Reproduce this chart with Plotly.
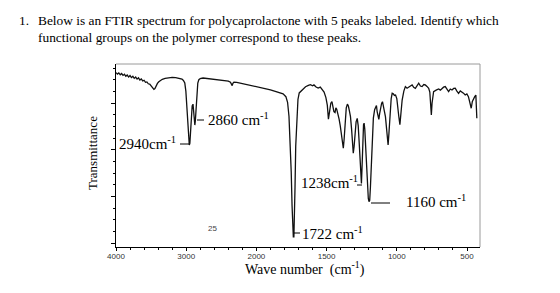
import plotly.graph_objects as go

# ---------------- data ----------------
WAVENUMBER = [
    4000, 3980, 3960, 3940, 3920, 3900, 3880, 3860, 3840, 3820, 3800, 3780, 3760, 3740, 3720,
    3700, 3680, 3660, 3640, 3620, 3600, 3580, 3560, 3540, 3520, 3500, 3480, 3460, 3445, 3430,
    3410, 3390, 3370, 3340, 3300, 3250, 3200, 3150, 3100, 3060, 3040, 3020, 3005, 2990, 2978,
    2966, 2956, 2948, 2940, 2930, 2915, 2903, 2893, 2885, 2877, 2870, 2862, 2855, 2845, 2835,
    2820, 2800, 2760, 2700, 2650, 2600, 2550, 2500, 2450, 2400, 2370, 2355, 2345, 2335, 2320,
    2280, 2200, 2150, 2100, 2050, 2000, 1950, 1900, 1860, 1830, 1810, 1790, 1778, 1768, 1760,
    1752, 1746, 1741, 1737, 1733, 1729, 1725, 1720, 1713, 1704, 1695, 1684, 1670, 1650, 1630,
    1615, 1600, 1590, 1575, 1560, 1545, 1530, 1518, 1505, 1495, 1487, 1480, 1470, 1462, 1455,
    1448, 1440, 1434, 1428, 1420, 1411, 1403, 1395, 1387, 1381, 1375, 1368, 1360, 1352, 1345,
    1338, 1330, 1322, 1315, 1310, 1304, 1297, 1290, 1282, 1275, 1268, 1262, 1256, 1252, 1247,
    1242, 1237, 1233, 1228, 1222, 1216, 1210, 1203, 1198, 1193, 1188, 1182, 1175, 1167, 1158,
    1150, 1145, 1140, 1133, 1128, 1122, 1115, 1108, 1102, 1096, 1088, 1081, 1075, 1068, 1062,
    1056, 1048, 1040, 1033, 1025, 1017, 1009, 1000, 993, 986, 978, 970, 962, 950, 939,
    927, 915, 903, 891, 880, 868, 856, 844, 832, 820, 808, 797, 785, 773, 765,
    759, 754, 749, 742, 738, 720, 702, 690, 679, 667, 655, 643, 631, 619, 607,
    595, 584, 572, 560, 548, 537, 525, 513, 501, 490, 480, 470, 462, 454, 445,
    437, 432, 430,
]
TRANSMITTANCE = [
    91.4, 90.6, 91.2, 90.2, 90.9, 89.9, 90.5, 89.4, 90.1, 89.0, 89.8, 88.7, 89.4, 88.3, 89.0,
    87.9, 88.6, 87.4, 88.0, 86.9, 87.3, 86.2, 86.4, 85.4, 85.2, 84.3, 83.4, 82.4, 82.8, 84.2,
    85.6, 86.5, 87.2, 87.8, 88.3, 88.6, 88.8, 88.7, 88.4, 87.9, 87.2, 85.8, 81.5, 73.5, 63.0,
    55.0, 52.6, 53.5, 60.0, 69.0, 73.5, 74.5, 71.0, 66.5, 63.3, 65.5, 70.0, 76.5, 82.5, 85.8,
    87.6, 88.2, 88.5, 88.2, 88.0, 87.7, 87.5, 87.2, 87.0, 86.8, 86.2, 84.8, 84.4, 85.6, 86.3,
    86.2, 85.6, 85.2, 84.7, 84.3, 83.9, 83.0, 82.2, 81.2, 80.6, 80.0, 78.5, 75.5, 68.0, 55.0,
    38.0, 20.0, 8.0, 3.5, 3.5, 12.0, 30.0, 52.0, 68.0, 77.0, 80.5, 81.2, 82.5, 83.8, 84.5,
    84.9, 84.3, 84.8, 83.7, 83.1, 83.6, 81.8, 81.0, 78.0, 74.0, 66.5, 70.5, 75.0, 75.8, 73.0,
    70.5, 70.0, 72.5, 71.8, 69.5, 66.5, 63.0, 58.0, 52.5, 50.9, 56.0, 66.0, 72.5, 74.5, 73.5,
    71.0, 67.8, 61.0, 52.0, 48.2, 52.0, 60.0, 65.0, 66.9, 63.0, 54.0, 43.0, 33.5, 32.0, 42.0,
    56.0, 63.5, 64.3, 61.0, 52.0, 40.0, 30.0, 24.0, 22.3, 23.0, 30.0, 44.0, 58.0, 67.0, 71.5,
    73.5, 73.8, 70.5, 67.0, 66.3, 69.5, 73.0, 75.0, 75.8, 74.0, 70.5, 67.8, 63.0, 56.0, 52.6,
    59.0, 70.0, 77.5, 80.3, 80.0, 79.2, 79.4, 77.5, 74.0, 68.0, 63.5, 70.0, 76.7, 81.5, 83.9,
    83.0, 83.4, 84.2, 84.8, 83.5, 83.0, 84.6, 85.7, 84.2, 83.9, 85.0, 84.8, 84.0, 83.0, 81.0,
    74.0, 68.7, 75.0, 80.0, 81.2, 82.0, 82.6, 82.0, 83.0, 83.6, 83.9, 82.5, 81.2, 82.6, 82.1,
    82.9, 83.0, 81.5, 80.3, 81.6, 81.2, 80.4, 79.4, 80.0, 78.5, 76.0, 72.3, 76.0, 77.6, 78.5,
    79.4, 74.0, 66.9,
]

TICK_WAVENUMBERS = [4000, 3000, 2000, 1500, 1000, 500]
TICK_LABELS = ["4000", "3000", "2000", "1500", "1000", "500"]

PEAK_LABELS = ["2940cm<sup>-1</sup>", "2860 cm<sup>-1</sup>", "1238cm<sup>-1</sup>",
               "1160 cm<sup>-1</sup>", "1722 cm<sup>-1</sup>"]

TITLE_NUMBER = "1."
TITLE_LINES = [
    "Below is an FTIR spectrum for polycaprolactone with 5 peaks labeled. Identify which",
    "functional groups on the polymer correspond to these peaks.",
]


# FTIR axis with a scale change at 2000 cm-1 (below 2000 the scale is doubled)
def axis_pos(w):
    return 4000 - w if w >= 2000 else 2000 + 2 * (2000 - w)


x_vals = [axis_pos(w) for w in WAVENUMBER]

# ---------------- layout helpers (pixel -> paper) ----------------
W, H = 560, 293
L, R, T, B = 116, 480, 64, 247


def px(x):
    return (x - L) / (R - L)


def py(y):
    return (B - y) / (B - T)


SERIF = "Liberation Serif, Times New Roman, serif"
SANS = "Liberation Sans, Arial, sans-serif"

fig = go.Figure()
fig.add_trace(go.Scatter(
    x=x_vals, y=TRANSMITTANCE, mode="lines",
    line=dict(color="#111111", width=1.3),
    hoverinfo="skip", showlegend=False,
))

annotations = []
# title
annotations.append(dict(text=TITLE_NUMBER, x=px(17), y=py(21), xref="paper", yref="paper",
                        xanchor="left", yanchor="middle", showarrow=False,
                        font=dict(family=SERIF, size=13.4, color="#000")))
for i, line in enumerate(TITLE_LINES):
    annotations.append(dict(text=line, x=px(36), y=py(21 + 16 * i), xref="paper", yref="paper",
                            xanchor="left", yanchor="middle", showarrow=False,
                            font=dict(family=SERIF, size=13.4, color="#000")))

# peak labels (text left x, centre y)
label_pos = [(117, 143), (206, 119), (299, 182), (404, 201), (300, 233)]
for txt, (lx, ly) in zip(PEAK_LABELS, label_pos):
    annotations.append(dict(text=txt, x=px(lx), y=py(ly), xref="paper", yref="paper",
                            xanchor="left", yanchor="middle", showarrow=False,
                            font=dict(family=SERIF, size=15, color="#000")))

# stray small label
annotations.append(dict(text="25", x=px(212), y=py(228), xref="paper", yref="paper",
                        xanchor="center", yanchor="middle", showarrow=False,
                        font=dict(family=SANS, size=8, color="#444")))

# axis titles
annotations.append(dict(text="Wave number  (cm<sup>-1</sup>)", x=px(305), y=py(268),
                        xref="paper", yref="paper", xanchor="center", yanchor="middle",
                        showarrow=False, font=dict(family=SERIF, size=14, color="#000")))
annotations.append(dict(text="Transmittance", x=px(92), y=py(153), xref="paper", yref="paper",
                        xanchor="center", yanchor="middle", showarrow=False, textangle=-90,
                        font=dict(family=SERIF, size=13, color="#000")))

shapes = []
# leaders
leaders = [((180, 144), (189, 144)), ((197, 120), (204, 120)), ((357, 185), (362, 185)),
           ((371, 203), (390, 203)), ((294, 233), (300, 233))]
for (x0, y0), (x1, y1) in leaders:
    shapes.append(dict(type="line", xref="paper", yref="paper", x0=px(x0), y0=py(y0),
                       x1=px(x1), y1=py(y1), line=dict(color="#000", width=1)))
# top & right frame (grey)
shapes.append(dict(type="line", xref="paper", yref="paper", x0=0, y0=1, x1=1, y1=1,
                   line=dict(color="#9a9a9a", width=1)))
shapes.append(dict(type="line", xref="paper", yref="paper", x0=1, y0=0, x1=1, y1=1,
                   line=dict(color="#9a9a9a", width=1)))

fig.update_layout(
    width=W, height=H,
    margin=dict(l=L, r=W - R, t=T, b=H - B, pad=0),
    paper_bgcolor="white", plot_bgcolor="white",
    annotations=annotations, shapes=shapes,
    xaxis=dict(
        range=[0, 5185], showgrid=False, zeroline=False,
        tickvals=[axis_pos(w) for w in TICK_WAVENUMBERS], ticktext=TICK_LABELS,
        ticks="outside", ticklen=3, tickcolor="#000", tickwidth=1,
        showline=True, linecolor="#000", linewidth=1,
        tickfont=dict(family=SANS, size=8, color="#333"),
        ticklabelstandoff=-2,
        minor=dict(dtick=200, tick0=0, ticks="outside", ticklen=2, tickcolor="#000"),
    ),
    yaxis=dict(
        range=[-2, 96], showgrid=False, zeroline=False, showticklabels=False,
        tick0=0, dtick=25, ticks="outside", ticklen=4, tickcolor="#000",
        showline=True, linecolor="#000", linewidth=1,
        minor=dict(dtick=6.25, tick0=0, ticks="outside", ticklen=2, tickcolor="#000"),
    ),
)

fig.write_html("out.html")
